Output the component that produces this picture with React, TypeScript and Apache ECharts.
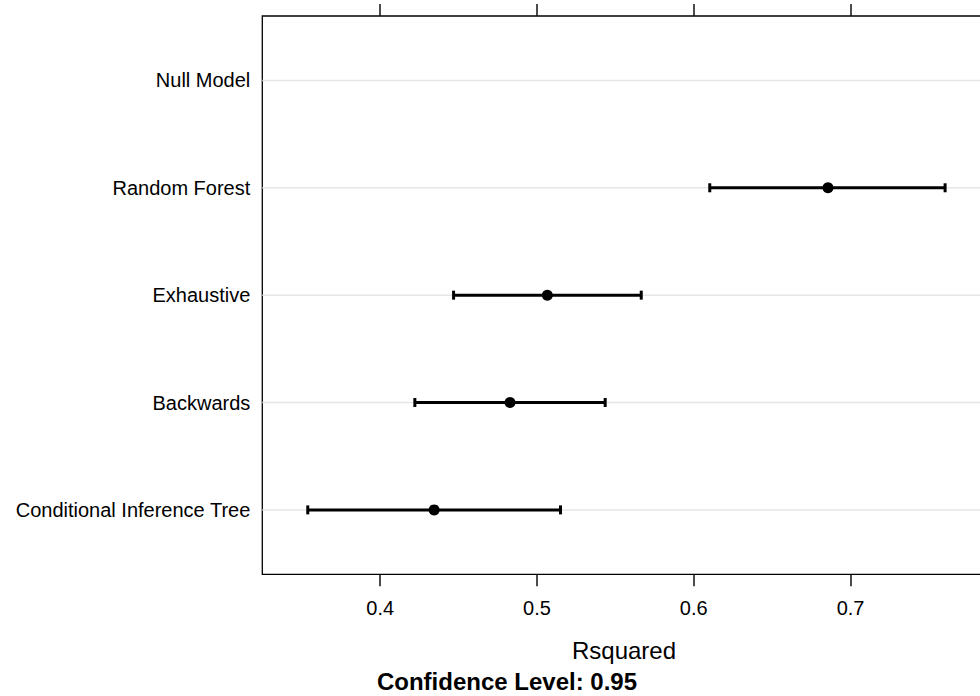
import React, { useEffect, useRef } from "react";
import * as echarts from "echarts";

// bottom-to-top order
const categories = ["Conditional Inference Tree", "Backwards", "Exhaustive", "Random Forest", "Null Model"];
const estimates: (number | null)[] = [0.4344, 0.4828, 0.5066, 0.6856, null];
const lowers: (number | null)[] = [0.3538, 0.4221, 0.4468, 0.6102, null];
const uppers: (number | null)[] = [0.515, 0.5435, 0.5665, 0.7603, null];
const xTicks = [0.4, 0.5, 0.6, 0.7];
const xLabel = "Rsquared";
const subtitle = "Confidence Level: 0.95";

const FONT = "'Liberation Sans', Arial, Helvetica, sans-serif";
const W = 990;
const H = 696;

export default function App() {
  const ref = useRef<HTMLDivElement>(null);
  useEffect(() => {
    if (!ref.current) return;
    const chart = echarts.init(ref.current, undefined, { renderer: "svg" });
    const xMin = 0.3248;
    const xMax = 0.7862;
    const yPos = categories.map((_, i) => i + 1);
    const dots: number[][] = [];
    const segs: any[] = [];
    const caps: number[][] = [];
    const refLines: any[] = [];
    categories.forEach((_, i) => {
      refLines.push([xMin, i + 1], [xMax, i + 1], "-");
      if (estimates[i] != null) dots.push([estimates[i] as number, i + 1]);
      if (lowers[i] != null && uppers[i] != null) {
        segs.push([lowers[i] as number, i + 1], [uppers[i] as number, i + 1], "-");
        caps.push([lowers[i] as number, i + 1], [uppers[i] as number, i + 1]);
      }
    });
    chart.setOption({
      animation: false,
      grid: {
        left: 262.3,
        top: 16,
        right: W - 985.7,
        bottom: 121.7,
        show: true,
        borderColor: "#000",
        borderWidth: 1.3,
        backgroundColor: "transparent",
      },
      xAxis: [
        {
          type: "value",
          position: "bottom",
          min: xMin,
          max: xMax,
          name: xLabel,
          nameLocation: "middle",
          nameGap: 64,
          nameTextStyle: { fontFamily: FONT, fontSize: 24, color: "#000" },
          axisLine: { show: false },
          splitLine: { show: false },
          axisTick: {
            show: true,
            customValues: xTicks,
            length: 12,
            inside: false,
            lineStyle: { color: "#111", width: 1.5 },
          },
          axisLabel: {
            show: true,
            customValues: xTicks,
            margin: 24,
            fontFamily: FONT,
            fontSize: 20,
            color: "#000",
            formatter: (v: number) => v.toFixed(1),
          },
        },
        {
          type: "value",
          position: "top",
          min: xMin,
          max: xMax,
          axisLine: { show: false },
          splitLine: { show: false },
          axisLabel: { show: false },
          axisTick: {
            show: true,
            customValues: xTicks,
            length: 12,
            inside: false,
            lineStyle: { color: "#111", width: 1.5 },
          },
        },
      ],
      yAxis: {
        type: "value",
        min: 0.4,
        max: 5.6,
        axisLine: { show: false },
        axisTick: { show: false },
        splitLine: { show: false },
        axisLabel: {
          show: true,
          customValues: yPos,
          margin: 12,
          fontFamily: FONT,
          fontSize: 20,
          color: "#000",
          padding: [3, 0, 0, 0],
          formatter: (v: number) => categories[Math.round(v) - 1] ?? "",
        },
      },
      series: [
        {
          type: "line",
          data: refLines,
          silent: true,
          z: 1,
          showSymbol: false,
          symbol: "none",
          connectNulls: false,
          lineStyle: { color: "#e6e6e6", width: 1.5, opacity: 1 },
          itemStyle: { color: "#e6e6e6" },
        },
        {
          type: "line",
          z: 3,
          data: segs,
          showSymbol: false,
          symbol: "none",
          connectNulls: false,
          silent: true,
          lineStyle: { color: "#000", width: 3, opacity: 1 },
          itemStyle: { color: "#000" },
        },
        {
          type: "scatter",
          z: 3,
          data: caps,
          symbol: "rect",
          symbolSize: [3, 9],
          silent: true,
          itemStyle: { color: "#000", opacity: 1 },
        },
        {
          type: "scatter",
          z: 4,
          data: dots,
          symbol: "circle",
          symbolSize: 11,
          silent: true,
          itemStyle: { color: "#000", opacity: 1 },
        },
      ],
      graphic: [
        {
          type: "text",
          x: 507,
          y: 681,
          style: {
            text: subtitle,
            fontFamily: FONT,
            fontSize: 24,
            fontWeight: "bold",
            fill: "#000",
            align: "center",
            verticalAlign: "middle",
          },
        },
      ],
    });
    return () => chart.dispose();
  }, []);
  return (
    <div
      ref={ref}
      style={{ position: "fixed", left: 0, top: 0, width: W, height: H, background: "#fff" }}
    />
  );
}
